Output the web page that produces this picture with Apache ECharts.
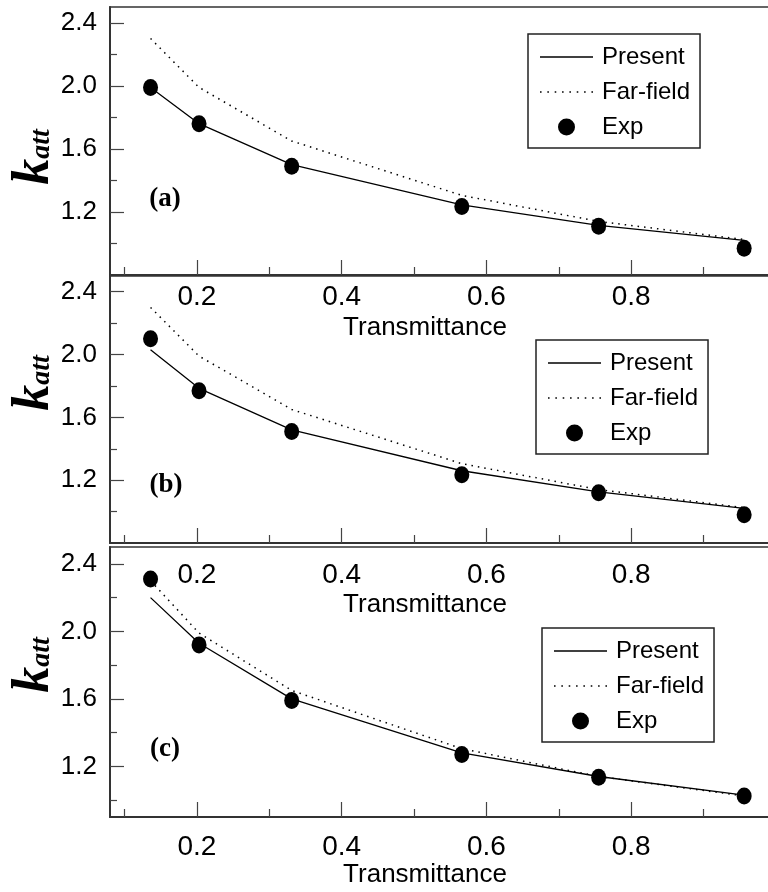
<!DOCTYPE html>
<html>
<head>
<meta charset="utf-8">
<script src="https://cdn.jsdelivr.net/npm/echarts@6/dist/echarts.min.js"></script>
<style>
  html, body { margin: 0; padding: 0; overflow: hidden; background: #fff; }
  #chart { width: 790px; height: 892px; }
</style>
</head>
<body>
<div id="chart"></div>
<script>
// Attenuation coefficient k_att versus transmittance, three cases (a), (b), (c)
const transmittance = [0.136, 0.203, 0.331, 0.566, 0.755, 0.956];
const farField = [2.30, 1.99, 1.65, 1.305, 1.14, 1.025];

const presentA = [1.99, 1.76, 1.50, 1.245, 1.115, 1.02];
const expA = [1.99, 1.76, 1.49, 1.235, 1.11, 0.97];

const presentB = [2.03, 1.785, 1.52, 1.26, 1.125, 1.02];
const expB = [2.10, 1.77, 1.51, 1.235, 1.12, 0.98];

const presentC = [2.20, 1.93, 1.60, 1.28, 1.14, 1.03];
const expC = [2.31, 1.92, 1.59, 1.27, 1.135, 1.025];

const xMajorTicks = [0.2, 0.4, 0.6, 0.8];
const xMinorTicks = [0.1, 0.3, 0.5, 0.7, 0.9];
const yMajorTicks = [1.2, 1.6, 2.0, 2.4];
const yMinorTicks = [1.0, 1.4, 1.8, 2.2];
const yMinByPanel = [0.8, 0.8, 0.9];
const legendNames = ['Present', 'Far-field', 'Exp'];
const panelLetters = ['(a)', '(b)', '(c)'];
const xAxisTitle = 'Transmittance';

const presentSets = [presentA, presentB, presentC];
const expSets = [expA, expB, expC];

// Layout of the three stacked panels
const layout = [
  { top: 7,   height: 268, labelMargin: 8,  nameGap: 40, yNamePad: [0, 32, 0, 0], legend: [528, 34],  letter: [165, 199] },
  { top: 276, height: 267, labelMargin: 18, nameGap: 49, yNamePad: [0, 0, 0, 53], legend: [536, 340], letter: [166, 485] },
  { top: 547, height: 270, labelMargin: 16, nameGap: 45, yNamePad: [0, 0, 0, 34], legend: [542, 628], letter: [165, 749] }
];

const sans = '"Liberation Sans", Arial, sans-serif';
const serif = '"Liberation Serif", "Times New Roman", serif';
const pairs = (ys) => transmittance.map((x, i) => [x, ys[i]]);

// Legend keys: a plain stroke for the solid curve, a row of dots for the dotted one
const solidKey = 'path://M0,0H53V1.3H0Z';
let dottedKey = 'path://';
for (let k = 0; k < 8; k++) dottedKey += 'M' + (k * 7) + ',0h1.5v1.5h-1.5z';
const legendData = [
  { name: legendNames[0], icon: solidKey },
  { name: legendNames[1], icon: dottedKey },
  { name: legendNames[2], icon: 'circle' }
];

const grid = [], xAxis = [], yAxis = [], series = [], legend = [], graphic = [];

layout.forEach((p, i) => {
  grid.push({
    left: 110, right: 14, top: p.top, height: p.height,
    outerBoundsMode: 'none', containLabel: false,
    show: true, borderColor: '#333', borderWidth: 1.5, backgroundColor: 'transparent'
  });

  // main x axis: line, long ticks, labels, title
  xAxis.push({
    gridIndex: i, type: 'value', min: 0.08, max: 1.0,
    axisLine: { show: true, onZero: false, lineStyle: { color: '#333', width: 2 } },
    axisTick: { show: true, inside: true, length: 15, customValues: xMajorTicks, lineStyle: { color: '#444', width: 1.2 } },
    axisLabel: { customValues: xMajorTicks, margin: p.labelMargin, fontSize: 28, color: '#000', fontFamily: sans,
                 formatter: (v) => v.toFixed(1) },
    splitLine: { show: false },
    name: xAxisTitle, nameLocation: 'middle', nameGap: p.nameGap, nameMoveOverlap: false,
    nameTextStyle: { fontSize: 26, color: '#000', fontFamily: sans, padding: [0, 36, 0, 0] }
  });
  // companion x axis carrying the short intermediate ticks
  xAxis.push({
    gridIndex: i, type: 'value', min: 0.08, max: 1.0, position: 'bottom',
    axisLine: { show: false },
    axisTick: { show: true, inside: true, length: 8, customValues: xMinorTicks, lineStyle: { color: '#444', width: 1.2 } },
    axisLabel: { show: false }, splitLine: { show: false }
  });

  yAxis.push({
    gridIndex: i, type: 'value', min: yMinByPanel[i], max: 2.5,
    axisLine: { show: true, onZero: false, lineStyle: { color: '#333', width: 2 } },
    axisTick: { show: true, inside: true, length: 14, customValues: yMajorTicks, lineStyle: { color: '#444', width: 1.2 } },
    axisLabel: { customValues: yMajorTicks, margin: 13, fontSize: 26, color: '#000', fontFamily: sans,
                 formatter: (v) => v.toFixed(1) },
    splitLine: { show: false },
    name: '{k|k}{s|att}', nameLocation: 'middle', nameRotate: 90, nameGap: 49, nameMoveOverlap: false,
    nameTextStyle: {
      padding: p.yNamePad,
      rich: {
        k: { fontSize: 52, fontWeight: 'bold', fontStyle: 'italic', fontFamily: serif, color: '#000', verticalAlign: 'bottom', lineHeight: 52 },
        s: { fontSize: 28, fontWeight: 'bold', fontStyle: 'italic', fontFamily: serif, color: '#000', verticalAlign: 'bottom', lineHeight: 28, padding: [0, 0, 5, 0] }
      }
    }
  });
  yAxis.push({
    gridIndex: i, type: 'value', min: yMinByPanel[i], max: 2.5, position: 'left', offset: 0,
    axisLine: { show: false },
    axisTick: { show: true, inside: true, length: 7, customValues: yMinorTicks, lineStyle: { color: '#444', width: 1.2 } },
    axisLabel: { show: false }, splitLine: { show: false }
  });

  series.push({
    name: 'Present', type: 'line', xAxisIndex: i * 2, yAxisIndex: i * 2,
    data: pairs(presentSets[i]), symbol: 'none', z: 2,
    lineStyle: { color: '#000', width: 1.3 }, itemStyle: { color: '#000', opacity: 1 }
  });
  series.push({
    name: 'Far-field', type: 'line', xAxisIndex: i * 2, yAxisIndex: i * 2,
    data: pairs(farField), symbol: 'none', z: 2,
    lineStyle: { color: '#000', width: 1.5, type: [1.5, 5] }, itemStyle: { color: '#000', opacity: 1 }
  });
  series.push({
    name: 'Exp', type: 'scatter', xAxisIndex: i * 2, yAxisIndex: i * 2,
    data: pairs(expSets[i]), symbol: 'circle', symbolSize: [15, 17], z: 3,
    itemStyle: { color: '#000', opacity: 1 }
  });

  legend.push({
    orient: 'vertical', left: p.legend[0], top: p.legend[1], data: legendData,
    selectedMode: false, padding: [11, 10, 9, 12],
    borderColor: '#222', borderWidth: 1.5, backgroundColor: '#fff',
    itemWidth: 53, itemHeight: 17, itemGap: 11,
    itemStyle: { color: '#000', opacity: 1 },
    textStyle: { fontSize: 24, lineHeight: 24, color: '#000', fontFamily: sans, padding: [0, 0, 0, 4] }
  });

  graphic.push({
    type: 'text', x: p.letter[0], y: p.letter[1], z: 10,
    style: { text: panelLetters[i], font: 'bold 27px ' + serif, fill: '#000', align: 'center', verticalAlign: 'middle' }
  });
});

const chart = echarts.init(document.getElementById('chart'), null, { renderer: 'canvas' });
chart.setOption({
  animation: false,
  backgroundColor: '#fff',
  grid, xAxis, yAxis, series, legend, graphic
});
</script>
</body>
</html>
